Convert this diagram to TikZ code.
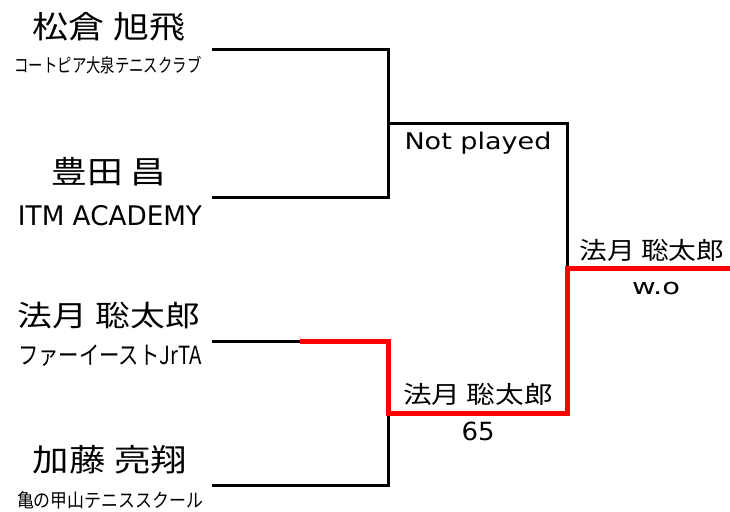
\documentclass[tikz,border=0pt]{standalone}
\usepackage{fontspec}
\usepackage{graphicx}
\setmainfont{DejaVu Sans}
\newfontfamily\jpf{Noto Sans CJK JP}
\newcommand\fitw[2]{\resizebox{#1}{\height}{#2}}
\newcommand\jpt[2]{{\jpf\fontsize{#1}{#1}\selectfont #2}}
\newcommand\ltt[2]{{\fontsize{#1}{#1}\selectfont #2}}
\begin{document}
\begin{tikzpicture}[x=1pt,y=-1pt,
  lbl/.style={inner sep=0pt, anchor=center},
  bline/.style={line width=3pt, draw=black, line join=miter},
  rline/.style={line width=5pt, draw=red, line join=miter}]
\useasboundingbox (0,0) rectangle (730,511);
% coordinates
\coordinate (a1) at (212,50);
\coordinate (a2) at (212,197);
\coordinate (a3) at (212,341);
\coordinate (a4) at (212,485);
\coordinate (s1) at (388,123);
\coordinate (s2) at (388,413);
\coordinate (r3) at (300,341);
\coordinate (f) at (567,268);
\coordinate (fe) at (730,268);
% black lines
\draw[bline] (a1) -| (s1);
\draw[bline] (a2) -| (s1);
\draw[bline] (s1) -| (f);
\draw[bline] (a3) -- (r3);
\draw[bline] (a4) -| (s2);
% red lines
\draw[rline] (r3) -| (s2) -| (f) -- (fe);
% labels
\node[lbl] (n1) at (109,27) {\fitw{152pt}{\jpt{31}{松倉 旭飛}}};
\node[lbl] (c1) at (108,65) {\fitw{187pt}{\jpt{19}{コートピア大泉テニスクラブ}}};
\node[lbl] (n2) at (109,172) {\fitw{115pt}{\jpt{31}{豊田 昌}}};
\node[lbl] (c2) at (110,216) {\fitw{184pt}{\ltt{27}{ITM ACADEMY}}};
\node[lbl] (n3) at (109,316) {\fitw{182pt}{\jpt{29}{法月 聡太郎}}};
\node[lbl] (c3) at (110,356) {\fitw{184pt}{\jpt{25}{ファーイーストJrTA}}};
\node[lbl] (n4) at (110,460) {\fitw{154pt}{\jpt{31}{加藤 亮翔}}};
\node[lbl] (c4) at (110,500) {\fitw{186pt}{\jpt{19}{亀の甲山テニススクール}}};
\node[lbl] (np) at (478,143) {\fitw{147pt}{\ltt{23}{Not played}}};
\node[lbl] (w1) at (478,394) {\fitw{150pt}{\jpt{24}{法月 聡太郎}}};
\node[lbl] (sc1) at (478,431) {\fitw{33pt}{\ltt{25}{65}}};
\node[lbl] (w2) at (652,250) {\fitw{145pt}{\jpt{24}{法月 聡太郎}}};
\node[lbl] (sc2) at (656,288) {\fitw{48pt}{\ltt{22}{w.o}}};
\end{tikzpicture}
\end{document}
